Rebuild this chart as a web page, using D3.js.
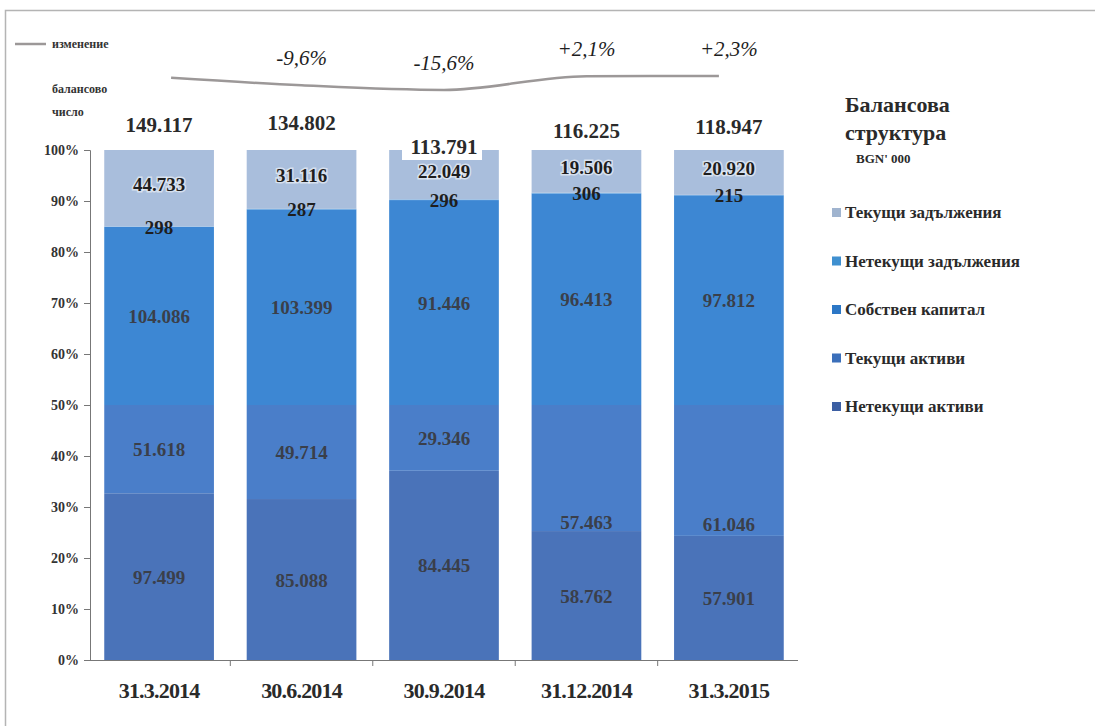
<!DOCTYPE html>
<html>
<head>
<meta charset="utf-8">
<script src="https://cdn.jsdelivr.net/npm/d3@7"></script>
<style>
  body { margin: 0; background: #fff; }
  svg text { font-family: "Liberation Serif", "Times New Roman", "DejaVu Serif", serif !important; }
</style>
</head>
<body>
<svg width="1095" height="726"></svg>
<script>
// data, BGN' 000
const dates = ["31.3.2014", "30.6.2014", "30.9.2014", "31.12.2014", "31.3.2015"];
const nonCurrentAssets = [97499, 85088, 84445, 58762, 57901];
const currentAssets = [51618, 49714, 29346, 57463, 61046];
const equity = [104086, 103399, 91446, 96413, 97812];
const nonCurrentLiab = [298, 287, 296, 306, 215];
const currentLiab = [44733, 31116, 22049, 19506, 20920];
const changes = [0, -9.6, -15.6, 2.1, 2.3];
const changeLabels = ["", "-9,6%", "-15,6%", "+2,1%", "+2,3%"];
const yTicks = [0, 0.1, 0.2, 0.3, 0.4, 0.5, 0.6, 0.7, 0.8, 0.9, 1];

const seriesNames = ["Нетекущи активи", "Текущи активи", "Собствен капитал", "Нетекущи задължения", "Текущи задължения"];
const barColors = ["#4a73b9", "#4a7ec9", "#3d87d3", "#62a6e4", "#a9bedc"];
const legendColors = ["#3c5fa3", "#3b6fba", "#2c77c6", "#3f90d0", "#a0b4cf"];

const svg = d3.select("svg");
const margin = { top: 150, left: 90, bottom: 66 };
const height = +svg.attr("height");
const fmt = v => d3.format(",")(v).replace(/,/g, ".");

// frame
svg.append("path")
    .attr("d", "M5.5,726V10.5H1095")
    .attr("fill", "none")
    .attr("stroke", "#b4b4b4")
    .attr("stroke-width", 1.5);

const x = d3.scaleBand()
    .domain(dates)
    .range([margin.left, 798])
    .paddingInner(0.23)
    .paddingOuter(0.1);

const y = d3.scaleLinear()
    .domain([0, 1])
    .range([height - margin.bottom, margin.top]);

// assets fill 0-50%, liabilities+equity fill 50-100%
const rows = dates.map((d, i) => ({
    date: d,
    values: [nonCurrentAssets[i], currentAssets[i], equity[i], nonCurrentLiab[i], currentLiab[i]]
}));

const segments = [];
rows.forEach((r, i) => {
    const assets = r.values[0] + r.values[1];
    const liab = r.values[2] + r.values[3] + r.values[4];
    let acc = 0;
    r.values.forEach((v, k) => {
        const base = k < 2 ? 0 : 0.5;
        if (k === 2) acc = 0;
        const tot = k < 2 ? assets : liab;
        const y0 = base + acc / tot * 0.5;
        acc += v;
        const y1 = base + acc / tot * 0.5;
        segments.push({ date: r.date, k, v, y0, y1, i });
    });
});

svg.append("g")
    .selectAll("rect")
    .data(segments)
    .join("rect")
        .attr("x", d => x(d.date))
        .attr("width", x.bandwidth())
        .attr("y", d => y(d.y1))
        .attr("height", d => y(d.y0) - y(d.y1))
        .attr("fill", d => barColors[d.k]);

// axes
const yAxis = svg.append("g")
    .attr("transform", `translate(${margin.left},0)`)
    .call(d3.axisLeft(y).tickValues(yTicks).tickFormat(d3.format(".0%")).tickSize(6).tickPadding(5));
yAxis.selectAll("text")
    .attr("font-size", 14).attr("font-weight", "bold").attr("fill", "#333");
yAxis.selectAll("line, path").attr("stroke", "#777");

const xAxis = svg.append("g")
    .attr("transform", `translate(0,${y(0)})`)
    .call(d3.axisBottom(x).tickSize(0).tickPadding(22));
xAxis.select(".domain").attr("stroke", "#777").attr("d", `M${margin.left},0.5H798`);
xAxis.selectAll("text")
    .attr("font-size", 22).attr("font-weight", "bold").attr("fill", "#2a2a2a")
    .attr("letter-spacing", -0.8);
// category separator ticks
xAxis.selectAll(".sep")
    .data(dates.slice(1))
    .join("line")
        .attr("x1", d => x(d) - x.step() * x.paddingInner() / 2)
        .attr("x2", d => x(d) - x.step() * x.paddingInner() / 2)
        .attr("y1", 0).attr("y2", 6)
        .attr("stroke", "#777");

// segment value labels (current-assets labels of the last two bars sit lower)
const labelShift = (d) => (d.k === 1 && d.i >= 3) ? 54 : 0;
const labels = svg.append("g")
    .attr("font-weight", "bold")
    .attr("font-size", 19)
    .attr("text-anchor", "middle")
    .attr("fill", "#2b2b2b");

labels.selectAll("text")
    .data(segments)
    .join("text")
        .attr("x", d => x(d.date) + x.bandwidth() / 2)
        .attr("y", d => y((d.y0 + d.y1) / 2) + (d.k === 4 ? 3 : 7) + labelShift(d))
        .attr("stroke", d => d.k === 4 ? "rgba(255,255,255,0.55)" : "none")
        .attr("stroke-width", 3)
        .attr("paint-order", "stroke")
        .attr("fill", d => d.k >= 3 ? "#1e1e1e" : "#3a3f4a")
        .text(d => fmt(d.v));

// totals above bars
const totals = rows.map(r => r.values[0] + r.values[1]);
const totalDy = [0, -2, 22, 6, 2];
const tg = svg.append("g");
totals.forEach((t, i) => {
    const cx = x(dates[i]) + x.bandwidth() / 2;
    const ty = 132 + totalDy[i];
    if (totalDy[i] > 10) {
        tg.append("rect")
            .attr("x", cx - 42).attr("y", ty - 18)
            .attr("width", 80).attr("height", 24)
            .attr("fill", "#fff");
    }
    tg.append("text")
        .attr("x", cx).attr("y", ty)
        .attr("text-anchor", "middle")
        .attr("font-weight", "bold").attr("font-size", 21)
        .attr("fill", "#2a2a2a")
        .text(fmt(t));
});

// change line
const yc = d3.scaleLinear()
    .domain([d3.min(changes), d3.max(changes)])
    .range([90, 76]);

const line = d3.line()
    .x((d, i) => x(dates[i]) + x.bandwidth() / 2 + (i === 0 ? 12 : i === 4 ? -10 : 0))
    .y(d => yc(d))
    .curve(d3.curveMonotoneX);

svg.append("path")
    .datum(changes)
    .attr("d", line)
    .attr("fill", "none")
    .attr("stroke", "#9c9898")
    .attr("stroke-width", 2.5);

svg.append("g")
    .selectAll("text")
    .data(changes)
    .join("text")
        .attr("x", (d, i) => x(dates[i]) + x.bandwidth() / 2)
        .attr("y", d => yc(d) - 20)
        .attr("text-anchor", "middle")
        .attr("font-style", "italic")
        .attr("font-size", 21)
        .attr("fill", "#1e1e1e")
        .text((d, i) => changeLabels[i]);

// top-left legend
svg.append("line")
    .attr("x1", 15).attr("x2", 46).attr("y1", 44).attr("y2", 44)
    .attr("stroke", "#9c9898").attr("stroke-width", 2.5);
svg.append("text").attr("x", 52).attr("y", 48)
    .attr("font-size", 12).attr("font-weight", "bold").attr("fill", "#333")
    .text("изменение");
svg.append("text").attr("x", 52).attr("y", 93)
    .attr("font-size", 12).attr("font-weight", "bold").attr("fill", "#333")
    .text("балансово");
svg.append("text").attr("x", 52).attr("y", 116)
    .attr("font-size", 12).attr("font-weight", "bold").attr("fill", "#333")
    .text("число");

// right legend
const lg = svg.append("g").attr("fill", "#2a2a2a");
lg.append("text").attr("x", 845).attr("y", 112)
    .attr("font-size", 22).attr("font-weight", "bold").text("Балансова");
lg.append("text").attr("x", 845).attr("y", 140)
    .attr("font-size", 22).attr("font-weight", "bold").text("структура");
lg.append("text").attr("x", 856).attr("y", 163)
    .attr("font-size", 13).attr("font-weight", "bold").text("BGN' 000");

const legendOrder = [4, 3, 2, 1, 0];
const items = lg.selectAll(".item")
    .data(legendOrder)
    .join("g")
        .attr("transform", (d, i) => `translate(832,${213 + i * 48.5})`);
items.append("rect")
    .attr("x", 0).attr("y", -5).attr("width", 9).attr("height", 9)
    .attr("fill", d => legendColors[d]);
items.append("text")
    .attr("x", 13).attr("y", 5)
    .attr("font-size", 17).attr("font-weight", "bold")
    .text(d => seriesNames[d]);
</script>
</body>
</html>
